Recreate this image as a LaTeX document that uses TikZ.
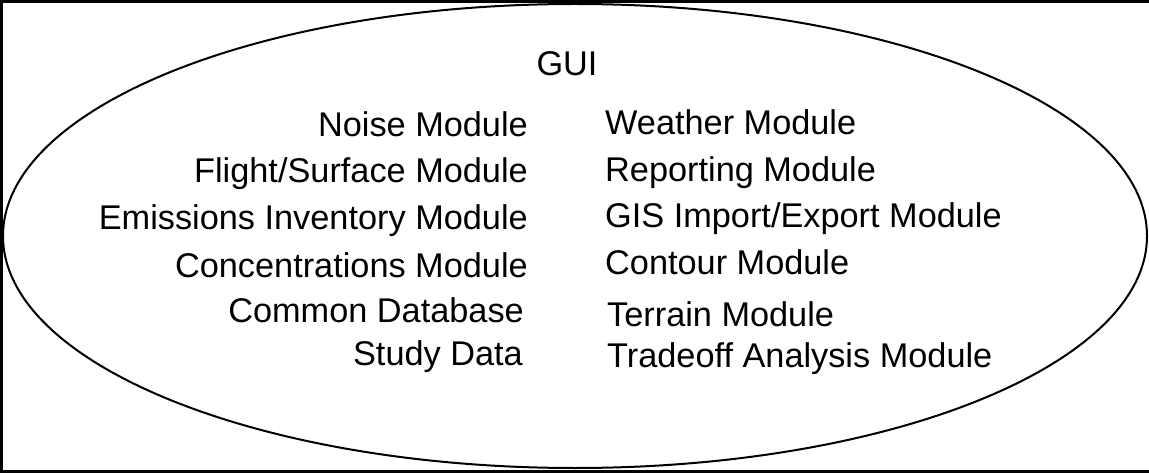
\documentclass[tikz,border=0pt]{standalone}
\usepackage{fontspec}
\setmainfont{Liberation Sans}
\begin{document}
\begin{tikzpicture}[x=1pt,y=-1pt,
  lbl/.style={inner sep=0pt,font=\fontsize{34.3}{40}\selectfont},
  lcol/.style={lbl,anchor=base east},
  rcol/.style={lbl,anchor=base west}]
\useasboundingbox (0,0) rectangle (1149,473);
\draw[line width=3pt] (1152,2) -- (1.5,2) -- (1.5,471) -- (1152,471);
\draw[line width=2pt] (575,236) ellipse [x radius=572, y radius=232];
\node[lbl,anchor=base] (gui) at (567,76) {GUI};
\node[lcol] (noise) at (528,137) {Noise Module};
\node[lcol] (flight) at (528,183) {Flight/Surface Module};
\node[lcol] (emis) at (528,230) {Emissions Inventory Module};
\node[lcol] (conc) at (528,277) {Concentrations Module};
\node[lcol] (common) at (524,323) {Common Database};
\node[lcol] (study) at (523,365) {Study Data};
\node[rcol] (weather) at (605,135) {Weather Module};
\node[rcol] (report) at (605,182) {Reporting Module};
\node[rcol] (gis) at (605,228) {GIS Import/Export Module};
\node[rcol] (contour) at (605,275) {Contour Module};
\node[rcol] (terrain) at (607,326) {Terrain Module};
\node[rcol] (trade) at (607,367) {Tradeoff Analysis Module};
\end{tikzpicture}
\end{document}
